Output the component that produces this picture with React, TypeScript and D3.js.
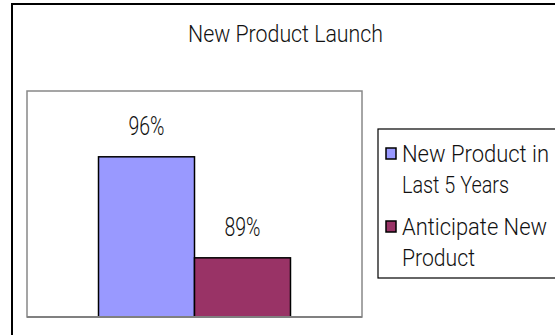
import React from "react";
import * as d3 from "d3";

const title = "New Product Launch";
const seriesNames = ["New Product in Last 5 Years", "Anticipate New Product"];
const legendLines = [["New Product in", "Last 5 Years"], ["Anticipate New", "Product"]];
const values = [96, 89];
const labels = ["96%", "89%"];
const colors = ["#9999FF", "#993366"];
const yDomain = [84.9, 100.56];

const FONT = "Roboto, 'Liberation Sans', sans-serif";

const legendWidths = [[147, 107], [145, 73]];

export default function App() {
  const W = 555, H = 335;
  const plot = { x0: 27, x1: 362, y0: 91, y1: 317 };
  const x = d3.scaleBand<string>().domain(seriesNames).range([plot.x0, plot.x1]).paddingInner(0).paddingOuter(0.745);
  const y = d3.scaleLinear().domain(yDomain).range([plot.y1, plot.y0]);

  return (
    <svg width={W} height={H} style={{ position: "absolute", left: 0, top: 0 }} fontFamily={FONT} fontWeight={300}>
      <rect x={0} y={0} width={W} height={H} fill="#fff" />
      {/* outer frame */}
      <rect x={12} y={4} width={600} height={400} fill="none" stroke="#000" strokeWidth={2} />
      <text x={188} y={42} fontSize={23} fill="#111" textLength={195} lengthAdjust="spacingAndGlyphs">{title}</text>
      {/* plot area */}
      <rect x={plot.x0} y={plot.y0} width={plot.x1 - plot.x0} height={plot.y1 - plot.y0} fill="#fff" stroke="#888" strokeWidth={1.5} />
      {seriesNames.map((s, i) => {
        const bx = x(s)!;
        const by = y(values[i]);
        return (
          <g key={s}>
            <rect x={bx} y={by} width={x.bandwidth()} height={plot.y1 - by} fill={colors[i]} stroke="#000" strokeWidth={1.5} />
            <text x={bx + x.bandwidth() / 2 - 18} y={by - 22} fontSize={25} fill="#111" textLength={36} lengthAdjust="spacingAndGlyphs">{labels[i]}</text>
          </g>
        );
      })}
      <line x1={plot.x0} x2={plot.x1} y1={plot.y1} y2={plot.y1} stroke="#808080" strokeWidth={2} />
      {/* legend */}
      <rect x={378} y={129} width={300} height={149} fill="#fff" stroke="#000" strokeWidth={1.2} />
      {legendLines.map((lines, i) => (
        <g key={i}>
          <rect x={386} y={148 + i * 73} width={10} height={11} fill={colors[i]} stroke="#000" strokeWidth={1.5} />
          {lines.map((ln, j) => (
            <text key={j} x={402} y={162 + i * 73 + j * 31} fontSize={24} fill="#111" textLength={legendWidths[i][j]} lengthAdjust="spacingAndGlyphs">{ln}</text>
          ))}
        </g>
      ))}
    </svg>
  );
}
